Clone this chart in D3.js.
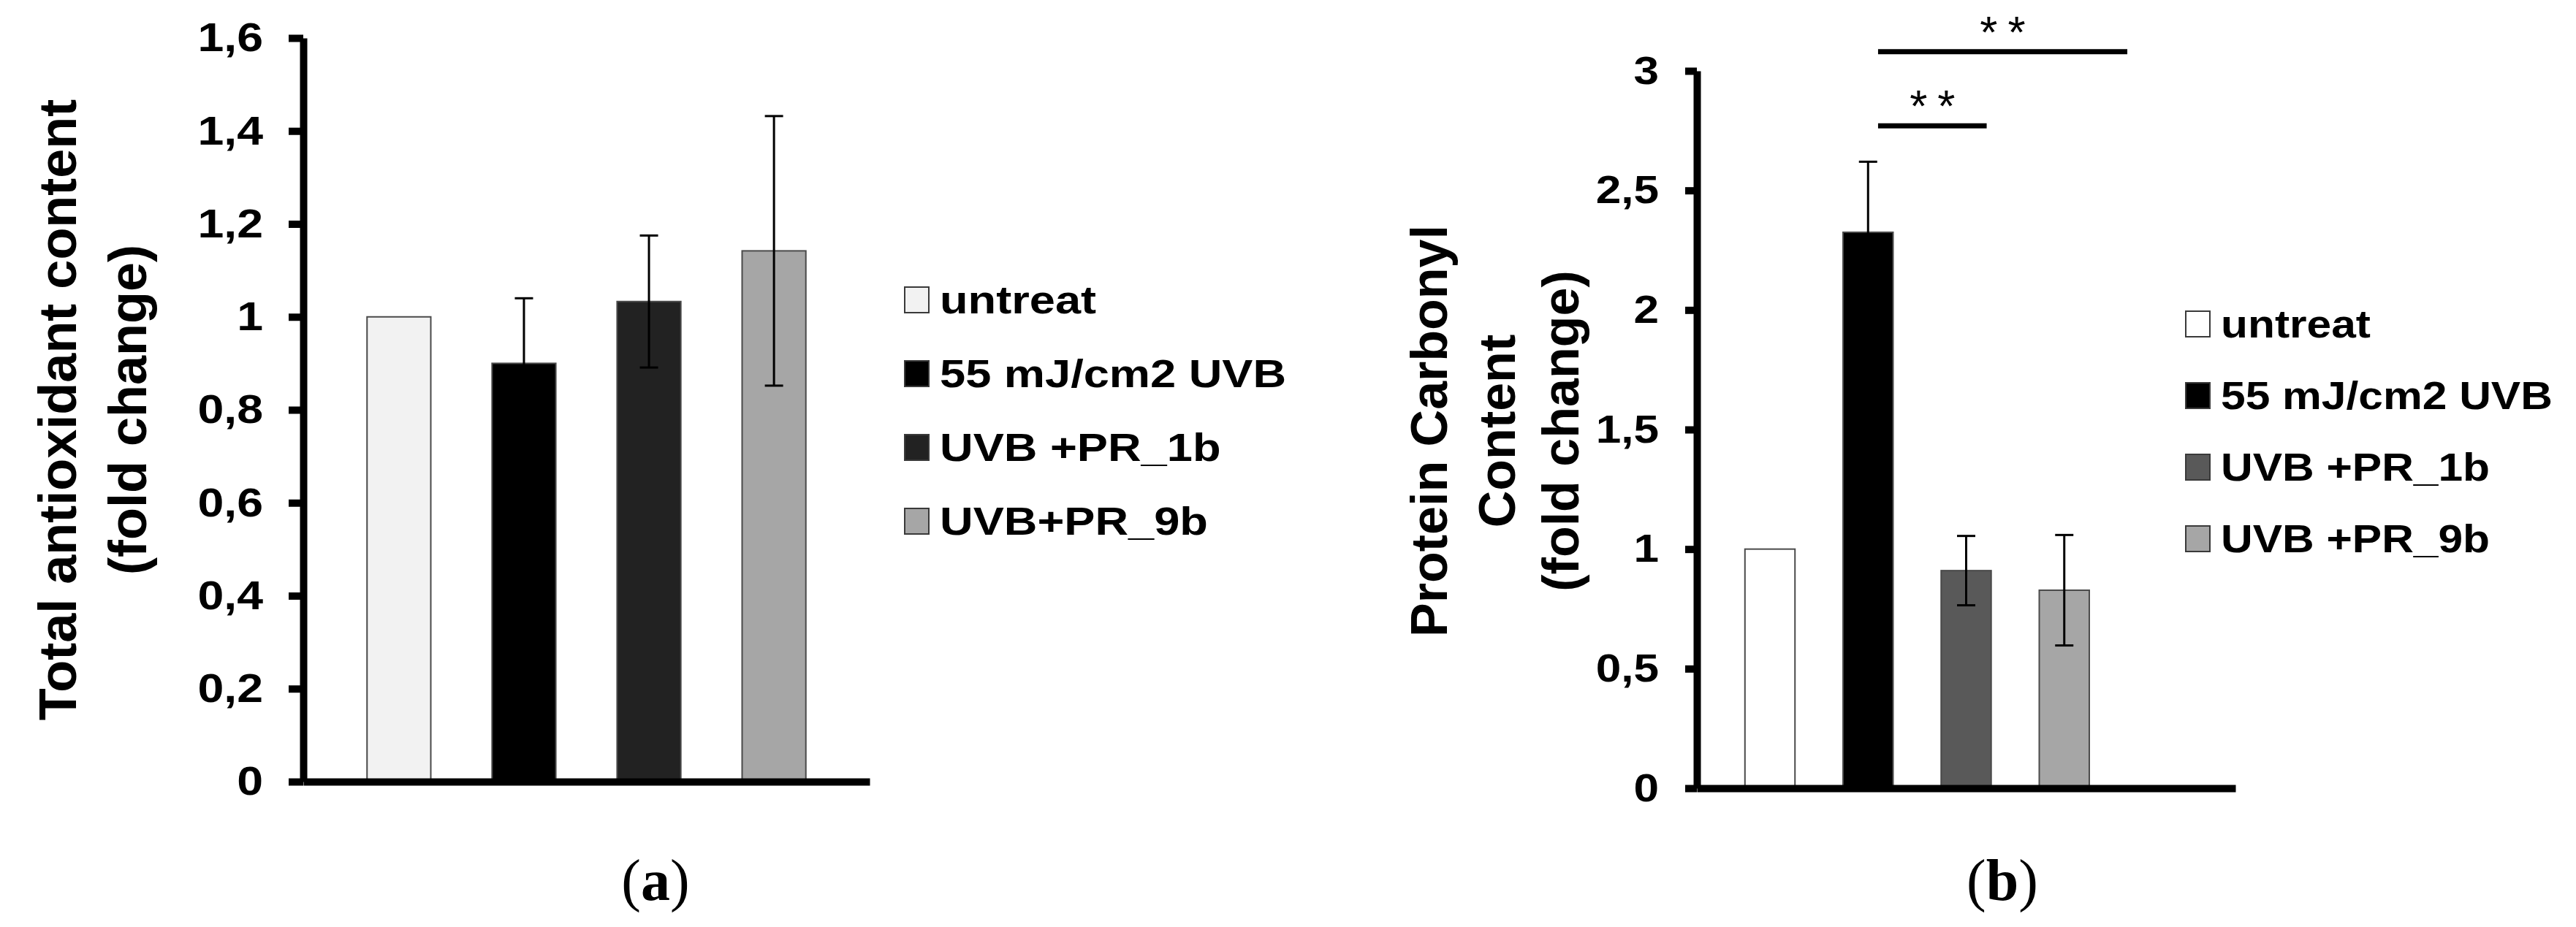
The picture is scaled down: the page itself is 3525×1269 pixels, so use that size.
<!DOCTYPE html>
<html>
<head>
<meta charset="utf-8">
<script src="https://cdn.jsdelivr.net/npm/d3@7"></script>
<style>
  body { margin: 0; background: #fff; }
  svg { display: block; }
  text { font-family: "Liberation Sans", Arial, sans-serif; font-weight: bold; fill: #000; }
</style>
</head>
<body>
<svg id="chart" width="3525" height="1269"></svg>
<script>
// panel (a) - total antioxidant content
var groupsA = ["untreat", "55 mJ/cm2 UVB", "UVB +PR_1b", "UVB+PR_9b"];
var valuesA = [1.0, 0.90, 1.033, 1.142];
var errorsA = [0, 0.14, 0.142, 0.29];
var colorsA = ["#f2f2f2", "#000000", "#222222", "#a6a6a6"];
var ticksA = [0, 0.2, 0.4, 0.6, 0.8, 1, 1.2, 1.4, 1.6];
var titleA = ["Total antioxidant content", "(fold change)"];

// panel (b) - protein carbonyl content
var groupsB = ["untreat", "55 mJ/cm2 UVB", "UVB +PR_1b", "UVB +PR_9b"];
var valuesB = [1.0, 2.325, 0.91, 0.828];
var errorsB = [0, 0.295, 0.145, 0.231];
var colorsB = ["#ffffff", "#000000", "#595959", "#a6a6a6"];
var ticksB = [0, 0.5, 1, 1.5, 2, 2.5, 3];
var titleB = ["Protein Carbonyl", "Content", "(fold change)"];

// significance brackets in (b)
var sigFrom = ["55 mJ/cm2 UVB", "55 mJ/cm2 UVB"];
var sigTo = ["UVB +PR_1b", "UVB +PR_9b"];
var sigLevel = [2.77, 3.08];
var sigText = ["**", "**"];

var svg = d3.select("#chart");

// comma decimals like the original
var fmt = d3.formatLocale({decimal: ",", thousands: ".", grouping: [3], currency: ["", ""]}).format("~g");

// the source figure has slightly wide lettering, stretch text horizontally
function widen(sel, f) {
  sel.each(function() {
    var w = this.getComputedTextLength();
    d3.select(this).attr("textLength", w * f).attr("lengthAdjust", "spacingAndGlyphs");
  });
}

function drawPanel(opt) {
  var g = svg.append("g");

  var x = d3.scaleBand()
    .domain(opt.slots)
    .range([opt.left, opt.right])
    .paddingInner(0.49)
    .paddingOuter(opt.outer);

  var y = d3.scaleLinear()
    .domain([0, opt.max])
    .range([opt.bottom, opt.top]);

  // bars
  g.selectAll(".bar")
    .data(opt.values)
    .enter()
    .append("rect")
    .attr("x", function(d, i) { return x(opt.groups[i]); })
    .attr("y", function(d) { return y(d); })
    .attr("width", x.bandwidth())
    .attr("height", function(d) { return y(0) - y(d); })
    .attr("fill", function(d, i) { return opt.colors[i]; })
    .attr("stroke", "#4a4a4a")
    .attr("stroke-width", 2);

  // error bars
  var cap = 12.5;
  opt.values.forEach(function(v, i) {
    var e = opt.errors[i];
    if (!e) return;
    var cx = x(opt.groups[i]) + x.bandwidth() / 2;
    var eg = g.append("g").attr("stroke", "#000").attr("stroke-width", 3);
    eg.append("line").attr("x1", cx).attr("x2", cx).attr("y1", y(v - e)).attr("y2", y(v + e));
    eg.append("line").attr("x1", cx - cap).attr("x2", cx + cap).attr("y1", y(v + e)).attr("y2", y(v + e));
    eg.append("line").attr("x1", cx - cap).attr("x2", cx + cap).attr("y1", y(v - e)).attr("y2", y(v - e));
  });

  // x axis (line only)
  var xAxis = g.append("g")
    .attr("transform", "translate(0," + y(0) + ")")
    .call(d3.axisBottom(x).tickSize(0).tickSizeOuter(0).tickFormat(""));
  xAxis.select(".domain").attr("stroke", "#000").attr("stroke-width", 10);

  // y axis
  var yAxis = g.append("g")
    .attr("transform", "translate(" + opt.left + ",0)")
    .call(d3.axisLeft(y).tickValues(opt.ticks).tickFormat(fmt)
      .tickSize(opt.tickLen).tickSizeOuter(0).tickPadding(opt.pad));
  yAxis.select(".domain").attr("stroke", "#000").attr("stroke-width", 10);
  yAxis.selectAll(".tick line").attr("stroke", "#000").attr("stroke-width", 10);
  yAxis.selectAll(".tick text")
    .attr("fill", "#000")
    .style("font-family", "'Liberation Sans', Arial, sans-serif")
    .style("font-weight", "bold")
    .style("font-size", opt.tickFont + "px");
  widen(yAxis.selectAll(".tick text"), 1.15);

  // rotated y title
  opt.title.forEach(function(t, i) {
    g.append("text")
      .attr("transform", "translate(" + opt.titleX[i] + "," + opt.titleY + ") rotate(-90)")
      .attr("text-anchor", "middle")
      .attr("dy", "0.36em")
      .style("font-size", opt.titleFont + "px")
      .text(t);
  });

  // legend
  var leg = g.append("g");
  opt.groups.forEach(function(name, i) {
    var ly = opt.legY + i * opt.legGap;
    leg.append("rect")
      .attr("x", opt.legX)
      .attr("y", ly - 17)
      .attr("width", 33)
      .attr("height", 35)
      .attr("fill", opt.colors[i])
      .attr("stroke", "#3a3a3a")
      .attr("stroke-width", 2);
    var t = leg.append("text")
      .attr("x", opt.legX + 48)
      .attr("y", ly)
      .attr("dy", "0.36em")
      .style("font-size", "54px")
      .text(name);
    widen(t, opt.legStretch);
  });

  // panel letter
  var lab = g.append("text")
    .attr("x", opt.labelX)
    .attr("y", 1232)
    .attr("text-anchor", "middle")
    .style("font-family", "'Liberation Serif', 'Times New Roman', serif")
    .style("font-weight", "normal")
    .style("font-size", "80px");
  lab.append("tspan").text("(");
  lab.append("tspan").style("font-weight", "bold").text(opt.letter);
  lab.append("tspan").text(")");

  return {x: x, y: y, g: g};
}

drawPanel({
  groups: groupsA, slots: groupsA, values: valuesA, errors: errorsA, colors: colorsA,
  ticks: ticksA, max: 1.6, title: titleA,
  left: 415, right: 1190, top: 52, bottom: 1070, outer: 0.51,
  tickLen: 20, pad: 35, tickFont: 56,
  titleX: [78, 174], titleY: 561, titleFont: 72,
  legX: 1238, legY: 410, legGap: 101, legStretch: 1.17,
  labelX: 897, letter: "a"
});

// (b) has an empty fifth slot at the right end of the axis
var pb = drawPanel({
  groups: groupsB, slots: groupsB.concat([" "]), values: valuesB, errors: errorsB, colors: colorsB,
  ticks: ticksB, max: 3, title: titleB,
  left: 2322, right: 3059, top: 97, bottom: 1079, outer: 0.49,
  tickLen: 16, pad: 36, tickFont: 54,
  titleX: [1955, 2048, 2135], titleY: 590, titleFont: 70,
  legX: 2991, legY: 443, legGap: 98, legStretch: 1.12,
  labelX: 2740, letter: "b"
});

// significance lines
var bw = pb.x.bandwidth();
var endFrac = [0.91, 1.76];
sigLevel.forEach(function(lv, i) {
  var x1 = pb.x(sigFrom[i]) + 0.7 * bw;
  var x2 = pb.x(sigTo[i]) + endFrac[i] * bw;
  var ly = pb.y(lv);
  pb.g.append("line")
    .attr("x1", x1).attr("x2", x2)
    .attr("y1", ly).attr("y2", ly)
    .attr("stroke", "#000")
    .attr("stroke-width", 7);
  pb.g.append("text")
    .attr("x", (x1 + x2) / 2 + 7)
    .attr("y", ly - 6)
    .attr("text-anchor", "middle")
    .style("font-weight", "normal")
    .style("font-size", "62px")
    .style("letter-spacing", "14px")
    .text(sigText[i]);
});
</script>
</body>
</html>
